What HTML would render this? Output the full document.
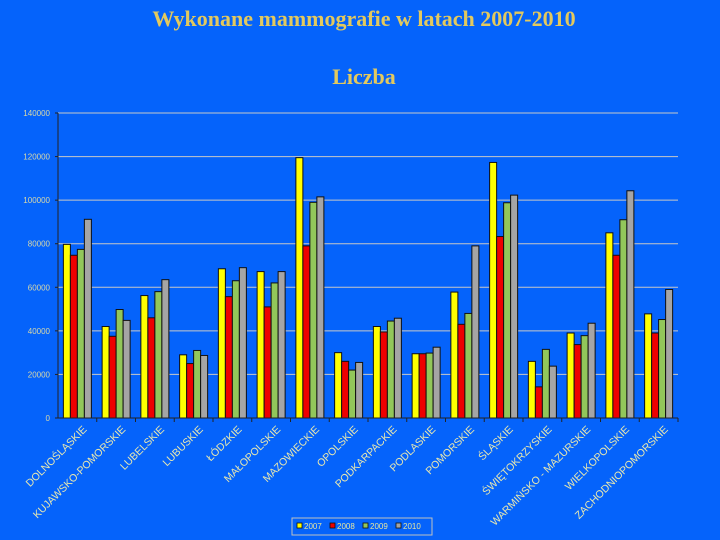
<!DOCTYPE html>
<html><head><meta charset="utf-8"><style>
html,body{margin:0;padding:0;background:#0563fb;}
svg{display:block;font-family:"Liberation Sans",sans-serif;}
</style></head><body>
<svg id="chart" width="720" height="540" viewBox="0 0 720 540">
<rect x="0" y="0" width="720" height="540" fill="#0563fb"/>
<text x="364" y="26" text-anchor="middle" font-family="Liberation Serif,serif" font-weight="bold" font-size="22" fill="#e3c95e">Wykonane mammografie w latach 2007-2010</text>
<text x="364" y="84" text-anchor="middle" font-family="Liberation Serif,serif" font-weight="bold" font-size="22" fill="#e3c95e">Liczba</text>
<g id="grid"></g><g id="bars"></g><g id="axes"></g><g id="labels"></g>
<g>
<rect x="292" y="518" width="140" height="17" fill="none" stroke="#c0c0c0" stroke-width="1"/>
<g id="legend"></g>
</g>
</svg>
<script>
const categories=["DOLNOŚLĄSKIE","KUJAWSKO-POMORSKIE","LUBELSKIE","LUBUSKIE","ŁÓDZKIE","MAŁOPOLSKIE","MAZOWIECKIE","OPOLSKIE","PODKARPACKIE","PODLASKIE","POMORSKIE","ŚLĄSKIE","ŚWIĘTOKRZYSKIE","WARMIŃSKO - MAZURSKIE","WIELKOPOLSKIE","ZACHODNIOPOMORSKIE"];
const seriesNames=["2007","2008","2009","2010"];
const v2007=[79700,42000,56200,29000,68500,67200,119500,30000,42000,29500,57800,117300,26000,39000,85000,47800];
const v2008=[74700,37500,46000,25000,55700,51000,79000,26000,39500,29500,43000,83300,14300,33700,74700,39000];
const v2009=[77400,49800,58000,31000,63000,62000,99000,22000,44500,29800,48000,98800,31500,37800,91000,45200];
const v2010=[91200,44800,63500,28700,69000,67200,101500,25500,45800,32500,79000,102300,23800,43500,104300,59000];
const yTicks=[0,20000,40000,60000,80000,100000,120000,140000];
const colors=["#ffff00","#ee0000","#92c75a","#a5a5a5"];
const series=[v2007,v2008,v2009,v2010];
const NS="http://www.w3.org/2000/svg";
const X0=58,X1=678,Y0=418,Y1=113,YMAX=140000;
const y=v=>Y0-(v/YMAX)*(Y0-Y1);
const gw=(X1-X0)/categories.length;
const x=i=>X0+i*gw;
function mk(t,a,p){const e=document.createElementNS(NS,t);for(const k in a)e.setAttribute(k,a[k]);p.appendChild(e);return e;}
const grid=document.getElementById('grid'),bars=document.getElementById('bars'),axes=document.getElementById('axes'),labels=document.getElementById('labels'),legend=document.getElementById('legend');
yTicks.forEach(t=>{
 if(t>0){const l=mk('line',{x1:X0,x2:X1,y1:y(t),y2:y(t),stroke:'#c8c8c8','stroke-width':1},grid);
 
 }
 const tx=mk('text',{x:X0-8,y:y(t)+3,'text-anchor':'end','font-size':8,fill:'#d8d8a8'},axes);
 tx.textContent=t;
 
 
 mk('line',{x1:X0-3,x2:X0,y1:y(t),y2:y(t),stroke:'#222'},axes);
});
mk('line',{x1:X0,x2:X0,y1:Y1,y2:Y0,stroke:'#222'},axes);
mk('line',{x1:X0,x2:X1,y1:Y0,y2:Y0,stroke:'#222'},axes);
const bw=7;
categories.forEach((c,i)=>{
 const start=x(i)+(gw-4*bw)/2;
 series.forEach((s,j)=>{
  const r=mk('rect',{x:start+j*bw,y:y(s[i]),width:bw,height:Y0-y(s[i]),fill:colors[j],stroke:'#111','stroke-width':1},bars);
  
  
 });
 mk('line',{x1:x(i+1),x2:x(i+1),y1:Y0,y2:Y0+4,stroke:'#222'},axes);
 const cx=x(i)+gw/2+10,cy=Y0+12;
 const t=mk('text',{x:cx,y:cy,'text-anchor':'end','font-size':10.5,fill:'#e8e8b0',transform:`rotate(-45 ${cx} ${cy})`},labels);
 t.textContent=c;
 
 
});
seriesNames.forEach((n,j)=>{
 const lx=297+j*33;
 mk('rect',{x:lx,y:523,width:5,height:5,fill:colors[j],stroke:'#111','stroke-width':0.8},legend);
 const t=mk('text',{x:lx+7,y:529,'font-size':8,fill:'#e6e6a0'},legend);
 t.textContent=n;
 
 
});
</script>
</body></html>
